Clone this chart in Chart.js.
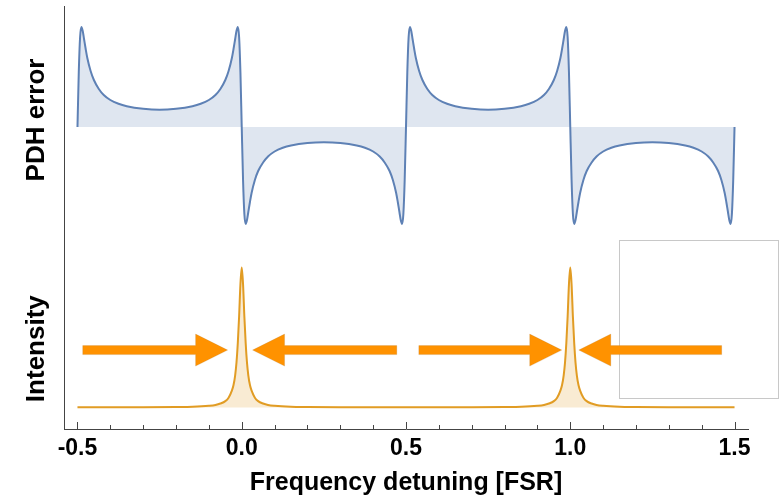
<!DOCTYPE html>
<html><head><meta charset="utf-8">
<script src="https://cdn.jsdelivr.net/npm/chart.js@4/dist/chart.umd.min.js"></script>
<style>html,body{margin:0;padding:0;background:#fff}</style>
</head><body>
<canvas id="c" width="781" height="499"></canvas>
<script>
// ---- data ----
const pdhX = [
 -0.5,-0.496,-0.492,-0.488,-0.484,-0.48,-0.475,-0.47,-0.46,-0.45,-0.435,-0.42,-0.4,-0.375,-0.35,-0.3,-0.25,-0.2,-0.15,-0.125,-0.1,-0.08,-0.065,-0.05,-0.04,-0.03,-0.025,-0.02,-0.016,-0.012,-0.008,-0.004,0,
 0.004,0.008,0.012,0.016,0.02,0.025,0.03,0.04,0.05,0.065,0.08,0.1,0.125,0.15,0.2,0.25,0.3,0.35,0.375,0.4,0.42,0.435,0.45,0.46,0.47,0.475,0.48,0.484,0.488,0.492,0.496,0.5,
 0.504,0.508,0.512,0.516,0.52,0.525,0.53,0.54,0.55,0.565,0.58,0.6,0.625,0.65,0.7,0.75,0.8,0.85,0.875,0.9,0.92,0.935,0.95,0.96,0.97,0.975,0.98,0.984,0.988,0.992,0.996,1,
 1.004,1.008,1.012,1.016,1.02,1.025,1.03,1.04,1.05,1.065,1.08,1.1,1.125,1.15,1.2,1.25,1.3,1.35,1.375,1.4,1.42,1.435,1.45,1.46,1.47,1.475,1.48,1.484,1.488,1.492,1.496,1.5
];
const pdhY = [
 0,0.55,0.9,1,0.96,0.88,0.78,0.69,0.56,0.47,0.38,0.32,0.27,0.232,0.208,0.182,0.172,0.182,0.208,0.232,0.27,0.32,0.38,0.47,0.56,0.69,0.78,0.88,0.96,1,0.9,0.55,0,
 -0.53,-0.87,-0.97,-0.93,-0.85,-0.75,-0.66,-0.53,-0.44,-0.355,-0.295,-0.245,-0.208,-0.185,-0.16,-0.152,-0.16,-0.185,-0.208,-0.245,-0.295,-0.355,-0.44,-0.53,-0.66,-0.75,-0.85,-0.93,-0.97,-0.87,-0.53,0,
 0.55,0.9,1,0.96,0.88,0.78,0.69,0.56,0.47,0.38,0.32,0.27,0.232,0.208,0.182,0.172,0.182,0.208,0.232,0.27,0.32,0.38,0.47,0.56,0.69,0.78,0.88,0.96,1,0.9,0.55,0,
 -0.53,-0.87,-0.97,-0.93,-0.85,-0.75,-0.66,-0.53,-0.44,-0.355,-0.295,-0.245,-0.208,-0.185,-0.16,-0.152,-0.16,-0.185,-0.208,-0.245,-0.295,-0.355,-0.44,-0.53,-0.66,-0.75,-0.85,-0.93,-0.97,-0.87,-0.53,0
];
const intX = [
 -0.5,-0.4,-0.3,-0.2,-0.15,-0.1,-0.08,-0.065,-0.05,-0.04,-0.03,-0.025,-0.02,-0.016,-0.012,-0.008,-0.004,0,
 0.004,0.008,0.012,0.016,0.02,0.025,0.03,0.04,0.05,0.065,0.08,0.1,0.15,0.2,0.3,0.4,0.5,
 0.6,0.7,0.8,0.85,0.9,0.92,0.935,0.95,0.96,0.97,0.975,0.98,0.984,0.988,0.992,0.996,1,
 1.004,1.008,1.012,1.016,1.02,1.025,1.03,1.04,1.05,1.065,1.08,1.1,1.15,1.2,1.3,1.4,1.5
];
const intY = [
 0.001,0.001,0.001,0.003,0.005,0.012,0.018,0.028,0.045,0.07,0.12,0.16,0.23,0.32,0.46,0.65,0.88,1,
 0.88,0.65,0.46,0.32,0.23,0.16,0.12,0.07,0.045,0.028,0.018,0.012,0.005,0.003,0.001,0.001,0.001,
 0.001,0.001,0.003,0.005,0.012,0.018,0.028,0.045,0.07,0.12,0.16,0.23,0.32,0.46,0.65,0.88,1,
 0.88,0.65,0.46,0.32,0.23,0.16,0.12,0.07,0.045,0.028,0.018,0.012,0.005,0.003,0.001,0.001,0.001
];
const xTickValues = [-0.5, 0, 0.5, 1, 1.5];
const xTickLabels = ['-0.5', '0.0', '0.5', '1.0', '1.5'];
const seriesNames = ['PDH error', 'Intensity'];
const xTitle = 'Frequency detuning [FSR]';
// arrows on the intensity panel: [tail x, tip x] in FSR
const arrowSpans = [[-0.484, -0.043], [0.472, 0.033], [0.539, 0.974], [1.461, 1.026]];

// ---- drawing ----
const FONT = '"Liberation Sans", Arial, Helvetica, sans-serif';
const BLUE = 'rgb(94,129,181)', ORANGE = 'rgb(225,156,36)';
const AXIS = '#444';

const decor = {
  id: 'decor',
  afterDraw(chart) {
    const ctx = chart.ctx, xs = chart.scales.x, yP = chart.scales.yPDH, yI = chart.scales.yInt;
    const ca = chart.chartArea;
    ctx.save();
    // inward tick marks on the x axis, every 0.1
    ctx.strokeStyle = AXIS; ctx.lineWidth = 1;
    for (let i = -5; i <= 15; i++) {
      const px = Math.round(xs.getPixelForValue(i / 10)) + 0.5;
      const len = (i % 5 === 0) ? 7 : 4;
      ctx.beginPath(); ctx.moveTo(px, ca.bottom); ctx.lineTo(px, ca.bottom - len); ctx.stroke();
    }
    // y axis titles
    ctx.fillStyle = '#000';
    ctx.font = 'bold 26px ' + FONT;
    ctx.textAlign = 'center'; ctx.textBaseline = 'middle';
    [[seriesNames[0], yP.getPixelForValue(0.07)], [seriesNames[1], yI.getPixelForValue(0.42)]].forEach(([t, py]) => {
      ctx.save(); ctx.translate(ca.left - 27, py); ctx.rotate(-Math.PI / 2); ctx.fillText(t, 0, 0); ctx.restore();
    });
    // light grey empty frame at lower right
    const bx1 = xs.getPixelForValue(1.148), bx2 = xs.getPixelForValue(1.632);
    const by1 = yI.getPixelForValue(1.2), by2 = yI.getPixelForValue(0.071);
    ctx.strokeStyle = '#c8c8c8'; ctx.lineWidth = 1;
    ctx.strokeRect(Math.round(bx1) + 0.5, Math.round(by1) + 0.5, Math.round(bx2 - bx1), Math.round(by2 - by1));
    // orange arrows
    const ay = yI.getPixelForValue(0.41);
    ctx.fillStyle = '#ff9200';
    ctx.strokeStyle = 'rgba(170,120,60,0.35)'; ctx.lineWidth = 0.6;
    arrowSpans.forEach(([a, b]) => {
      const xt = xs.getPixelForValue(a), xp = xs.getPixelForValue(b);
      const dir = xp > xt ? 1 : -1;
      const xb = xp - dir * 32;
      ctx.beginPath();
      ctx.moveTo(xt, ay - 4.5); ctx.lineTo(xb, ay - 4.5); ctx.lineTo(xb, ay - 16);
      ctx.lineTo(xp, ay); ctx.lineTo(xb, ay + 16); ctx.lineTo(xb, ay + 4.5); ctx.lineTo(xt, ay + 4.5);
      ctx.closePath(); ctx.fill(); ctx.stroke();
    });
    ctx.restore();
  }
};

new Chart(document.getElementById('c'), {
  type: 'line',
  data: {
    datasets: [
      { label: seriesNames[1], data: intX.map((x, i) => ({ x, y: intY[i] })), yAxisID: 'yInt',
        borderColor: ORANGE, backgroundColor: 'rgba(225,156,36,0.2)', fill: 'origin',
        borderWidth: 2, pointRadius: 0, cubicInterpolationMode: 'monotone' },
      { label: seriesNames[0], data: pdhX.map((x, i) => ({ x, y: pdhY[i] })), yAxisID: 'yPDH',
        borderColor: BLUE, backgroundColor: 'rgba(94,129,181,0.2)', fill: 'origin',
        borderWidth: 2, pointRadius: 0, cubicInterpolationMode: 'monotone' }
    ]
  },
  options: {
    responsive: false, animation: false, devicePixelRatio: 1,
    layout: { padding: { left: 64, right: 33, top: 6, bottom: 0 } },
    plugins: { legend: { display: false }, tooltip: { enabled: false } },
    scales: {
      x: {
        type: 'linear', min: -0.541, max: 1.541,
        afterBuildTicks: s => { s.ticks = xTickValues.map(v => ({ value: v })); },
        ticks: { callback: (v) => xTickLabels[xTickValues.indexOf(v)], color: '#000', padding: 5.5,
                 maxRotation: 0, autoSkip: false, font: { family: FONT, size: 23, weight: 'bold' } },
        grid: { drawOnChartArea: false, drawTicks: false },
        border: { color: AXIS, width: 1 },
        title: { display: true, text: xTitle, color: '#000', padding: { top: 1, bottom: 0.4 },
                 font: { family: FONT, size: 25, weight: 'bold' } }
      },
      yInt: {
        type: 'linear', position: 'left', stack: 'panels', stackWeight: 184,
        min: -0.154, max: 1.161,
        ticks: { display: false }, grid: { display: false, drawTicks: false },
        border: { color: AXIS, width: 1 }
      },
      yPDH: {
        type: 'linear', position: 'left', stack: 'panels', stackWeight: 239,
        min: -1.18, max: 1.21,
        ticks: { display: false }, grid: { display: false, drawTicks: false },
        border: { color: AXIS, width: 1 }
      }
    }
  },
  plugins: [decor]
});
</script>
</body></html>
